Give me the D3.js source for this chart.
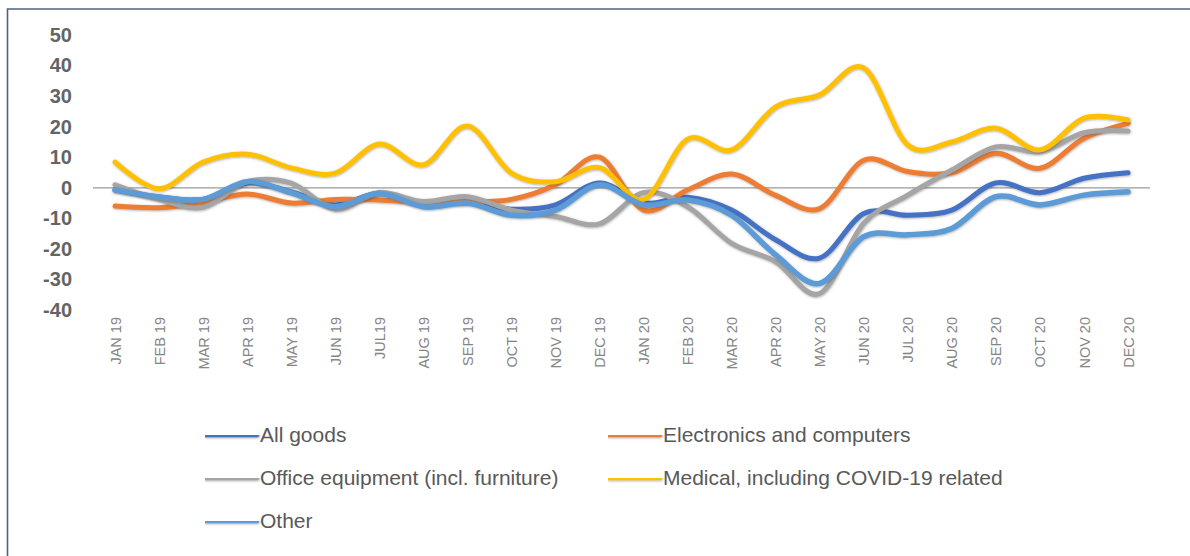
<!DOCTYPE html>
<html>
<head>
<meta charset="utf-8">
<script src="https://cdn.jsdelivr.net/npm/d3@7"></script>
<style>
  html, body { margin: 0; padding: 0; background: #fff; }
  svg { display: block; }
</style>
</head>
<body>
<svg id="chart" width="1190" height="556"></svg>
<script>
const months = ["JAN 19","FEB 19","MAR 19","APR 19","MAY 19","JUN 19","JUL19","AUG 19","SEP 19","OCT 19","NOV 19","DEC 19",
                "JAN 20","FEB 20","MAR 20","APR 20","MAY 20","JUN 20","JUL 20","AUG 20","SEP 20","OCT 20","NOV 20","DEC 20"];
const yTicks = [50, 40, 30, 20, 10, 0, -10, -20, -30, -40];

const seriesNames = ["All goods", "Electronics and computers", "Office equipment (incl. furniture)", "Medical, including COVID-19 related", "Other"];
const seriesColors = ["#4472C4", "#ED7D31", "#A5A5A5", "#FFC000", "#5B9BD5"];

const allGoods    = [-0.7, -3.0, -3.8, 1.6, -1.3, -5.6, -1.8, -5.6, -4.6, -7.0, -5.6, 1.6, -5.0, -3.1, -7.3, -17.0, -23.0, -8.4, -9.0, -7.3, 1.6, -1.6, 3.1, 4.9];
const electronics = [-6.0, -6.5, -4.8, -2.0, -5.0, -3.8, -4.0, -4.8, -4.6, -3.8, 1.0, 10.0, -7.3, -0.7, 4.5, -2.5, -6.8, 9.0, 5.3, 4.9, 11.3, 6.4, 16.2, 21.1];
const office      = [1.0, -3.8, -6.4, 2.0, 1.5, -7.0, -1.6, -4.5, -2.9, -7.3, -9.4, -11.8, -1.6, -6.2, -18.2, -24.2, -34.6, -11.6, -2.4, 5.8, 13.4, 11.8, 18.0, 18.6];
const medical     = [8.4, -0.3, 8.4, 11.0, 6.5, 4.8, 14.3, 7.5, 20.2, 4.8, 2.0, 6.6, -3.8, 15.9, 12.4, 26.5, 30.4, 39.2, 14.0, 15.0, 19.5, 12.4, 22.8, 22.2];
const other       = [-0.7, -3.0, -3.8, 2.0, -1.6, -6.2, -1.8, -6.2, -5.0, -9.0, -7.3, 1.0, -5.6, -4.0, -9.0, -22.0, -31.3, -16.0, -15.4, -13.3, -2.9, -5.6, -2.4, -1.3];

const seriesValues = [allGoods, electronics, office, medical, other];

const svg = d3.select("#chart");

// shadow filter (user space so zero-height swatches still render)
const defs = svg.append("defs");
const f = defs.append("filter").attr("id", "shadow")
  .attr("filterUnits", "userSpaceOnUse")
  .attr("x", 0).attr("y", 0).attr("width", 1190).attr("height", 556);
f.append("feDropShadow").attr("dx", 0.6).attr("dy", 0.8).attr("stdDeviation", 0.8)
  .attr("flood-color", "#404040").attr("flood-opacity", 0.45);

// frame
svg.append("path")
  .attr("d", "M7.5,556 L7.5,9 L1190,9")
  .attr("fill", "none").attr("stroke", "#4e6579").attr("stroke-width", 1.6);

const x = d3.scalePoint().domain(months).range([93, 1150]).padding(0.5);
const y = d3.scaleLinear().domain([-40, 50]).range([310, 35]);

// y axis
const yAxis = svg.append("g").attr("transform", "translate(75,0)")
  .call(d3.axisLeft(y).tickValues(yTicks).tickSize(0).tickPadding(3).tickFormat(d => String(d)));
yAxis.select(".domain").remove();
yAxis.selectAll("text")
  .attr("font-family", "'Liberation Sans', Arial, sans-serif")
  .attr("font-size", 20).attr("font-weight", "bold").attr("fill", "#646464");

// zero line
svg.append("line")
  .attr("x1", 93).attr("x2", 1150).attr("y1", y(0)).attr("y2", y(0))
  .attr("stroke", "#9a9a9a").attr("stroke-width", 1.2);

// x axis labels
const xAxis = svg.append("g").attr("transform", "translate(0,317)")
  .call(d3.axisBottom(x).tickSize(0).tickPadding(0));
xAxis.select(".domain").remove();
xAxis.selectAll("text")
  .attr("transform", "rotate(-90)")
  .attr("x", 0).attr("y", 0).attr("dy", "0.35em")
  .attr("text-anchor", "end")
  .attr("font-family", "'Liberation Sans', Arial, sans-serif")
  .attr("font-size", 14.5).attr("fill", "#858585");

// lines
const line = d3.line()
  .x((d, i) => x(months[i]))
  .y(d => y(d))
  .curve(d3.curveCatmullRom.alpha(0));

const widths = [5, 5, 5, 5, 5.5];
svg.append("g").selectAll("path")
  .data(seriesValues)
  .join("path")
  .attr("d", d => line(d))
  .attr("fill", "none")
  .attr("stroke", (d, i) => seriesColors[i])
  .attr("stroke-width", (d, i) => widths[i])
  .attr("stroke-linecap", "round")
  .attr("stroke-linejoin", "round")
  .attr("filter", "url(#shadow)");

// legend
const legendPos = [[205, 435], [608, 435], [205, 478], [608, 478], [205, 521]];
const lg = svg.append("g").selectAll("g").data(seriesNames).join("g")
  .attr("transform", (d, i) => `translate(${legendPos[i][0]},${legendPos[i][1]})`);
lg.append("line").attr("x1", 0).attr("x2", 52).attr("y1", 0).attr("y2", 0)
  .attr("stroke", (d, i) => seriesColors[i]).attr("stroke-width", 4.5)
  .attr("stroke-linecap", "round")
  .attr("filter", "url(#shadow)");
lg.append("text").attr("x", 55).attr("y", 0).attr("dy", "0.35em")
  .attr("font-family", "'Liberation Sans', Arial, sans-serif")
  .attr("font-size", 21).attr("fill", "#595959")
  .text(d => d);
</script>
</body>
</html>
